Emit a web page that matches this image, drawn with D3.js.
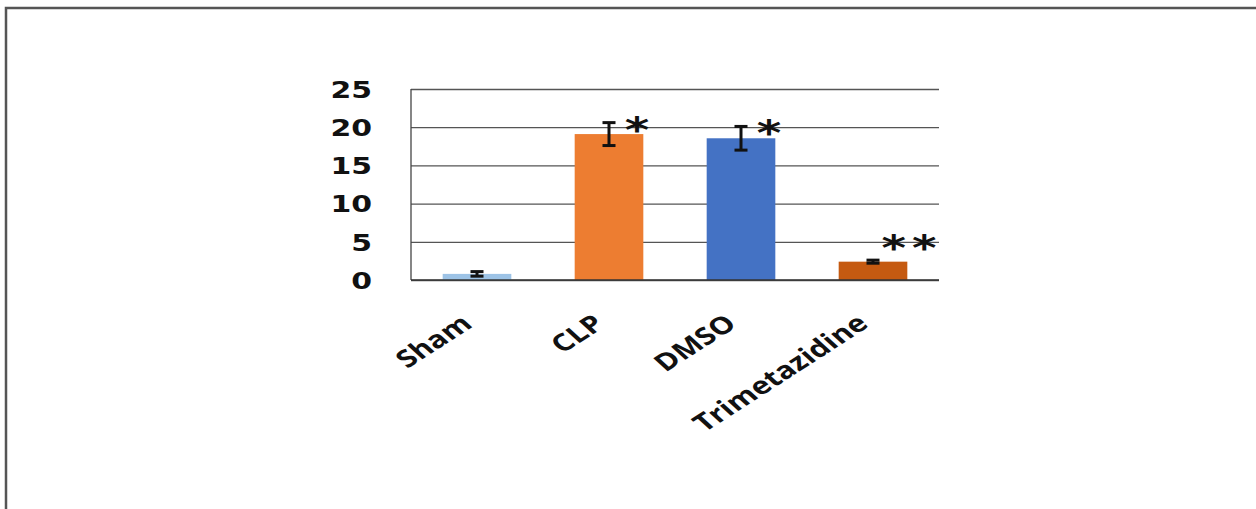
<!DOCTYPE html>
<meta charset="utf-8">

<!-- Load d3.js -->
<script src="https://d3js.org/d3.v7.min.js"></script>

<style>
    body { margin: 0; background: #fff; }
    .domain { display: none; }
</style>

<!-- Create a div where the graph will take place -->
<div id="my_dataviz"></div>

<script>
    // data
    var groups = ["Sham", "CLP", "DMSO", "Trimetazidine"];
    var means = [0.8, 19.1, 18.55, 2.4];
    var errors = [0.3, 1.5, 1.55, 0.2];
    var marks = ["", "*", "*", "* *"];
    var yTicks = [0, 5, 10, 15, 20, 25];
    var barColors = ["#9dc3e6", "#ed7d31", "#4472c4", "#c55a11"];

    var W = 1256, H = 509;
    var margin = { top: 89, right: 317, bottom: 229, left: 411 },
        width = W - margin.left - margin.right,
        height = H - margin.top - margin.bottom;

    var svgRoot = d3.select("#my_dataviz")
        .append("svg")
        .attr("width", W)
        .attr("height", H);

    // frame (only top and left edges visible)
    svgRoot.append("path")
        .attr("d", "M6,509V8H1256")
        .attr("fill", "none")
        .attr("stroke", "#555")
        .attr("stroke-width", 2.5);

    var svg = svgRoot.append("g")
        .attr("transform", "translate(" + margin.left + "," + margin.top + ")");

    // ---------------------------//
    //       AXIS  AND SCALE      //
    // ---------------------------//

    var x = d3.scaleBand()
        .domain(groups)
        .range([0, width])
        .paddingInner(0.48)
        .paddingOuter(0.24);

    var y = d3.scaleLinear()
        .domain([0, 25])
        .range([height, 0]);

    // gridlines + tick labels (text is stretched sideways like the source)
    var sx = 1.3;
    var yAxis = svg.append("g")
        .call(d3.axisLeft(y).tickValues(yTicks).tickSize(-width).tickPadding(0));
    yAxis.selectAll(".tick line")
        .attr("stroke", "#555")
        .attr("stroke-width", 1.3);
    yAxis.selectAll(".tick text")
        .attr("x", -39 / sx)
        .attr("dy", "0.36em")
        .attr("transform", "scale(" + sx + ",1)")
        .attr("text-anchor", "end")
        .style("font-family", "DejaVu Sans")
        .style("font-weight", "bold")
        .style("font-size", "23px")
        .style("fill", "#111");

    // vertical axis line
    svg.append("line")
        .attr("x1", 0).attr("x2", 0)
        .attr("y1", y(25)).attr("y2", y(0))
        .attr("stroke", "#444")
        .attr("stroke-width", 1.3);

    // ---------------------------//
    //       BARS                 //
    // ---------------------------//

    svg.append("g")
        .selectAll("rect")
        .data(groups)
        .enter()
        .append("rect")
        .attr("x", function (d) { return x(d); })
        .attr("y", function (d, i) { return y(means[i]); })
        .attr("width", x.bandwidth())
        .attr("height", function (d, i) { return y(0) - y(means[i]); })
        .style("fill", function (d, i) { return barColors[i]; });

    // baseline
    svg.append("line")
        .attr("x1", 0).attr("x2", width)
        .attr("y1", y(0)).attr("y2", y(0))
        .attr("stroke", "#333")
        .attr("stroke-width", 1.5);

    // ---------------------------//
    //       ERROR BARS           //
    // ---------------------------//

    var cap = 6.5;
    var eb = svg.append("g")
        .attr("stroke", "#111")
        .attr("stroke-width", 3);
    groups.forEach(function (d, i) {
        var cx = x(d) + x.bandwidth() / 2;
        var top = y(means[i] + errors[i]), bot = y(means[i] - errors[i]);
        eb.append("line").attr("x1", cx).attr("x2", cx).attr("y1", top).attr("y2", bot);
        eb.append("line").attr("x1", cx - cap).attr("x2", cx + cap).attr("y1", top).attr("y2", top);
        eb.append("line").attr("x1", cx - cap).attr("x2", cx + cap).attr("y1", bot).attr("y2", bot);
    });

    // significance asterisks
    svg.append("g")
        .selectAll("text")
        .data(groups)
        .enter()
        .append("text")
        .attr("transform", function (d, i) {
            var cx = x(d) + x.bandwidth() / 2;
            var ax = cx + 28;
            var ay = y(means[i] + errors[i]) + 19;
            if (i == 3) { ax = cx + 36; ay = y(5) + 18; }
            return "translate(" + ax + "," + ay + ") scale(" + sx + ",1)";
        })
        .attr("text-anchor", "middle")
        .style("font-family", "DejaVu Sans")
        .style("font-weight", "bold")
        .style("font-size", "36px")
        .style("word-spacing", "-8px")
        .style("fill", "#111")
        .text(function (d, i) { return marks[i]; });

    // ---------------------------//
    //       CATEGORY LABELS      //
    // ---------------------------//

    svg.append("g")
        .selectAll("text")
        .data(groups)
        .enter()
        .append("text")
        .attr("transform", function (d) {
            var cx = x(d) + x.bandwidth() / 2;
            return "translate(" + (cx - 3) + "," + (y(0) + 46) + ") scale(" + sx + ",1) rotate(-40)";
        })
        .attr("text-anchor", "end")
        .style("font-family", "Open Sans")
        .style("font-weight", "bold")
        .style("font-size", "24px")
        .style("fill", "#111")
        .text(function (d) { return d; });
</script>
